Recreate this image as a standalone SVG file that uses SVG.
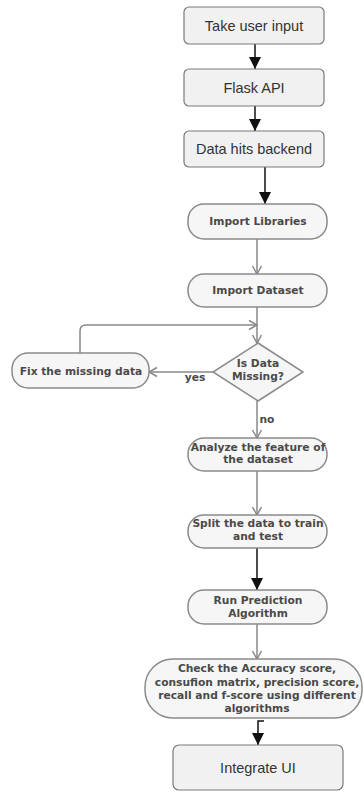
<svg xmlns="http://www.w3.org/2000/svg" width="364" height="792" viewBox="0 0 364 792">
<style>
.top{fill:#f1f1f1;stroke:#7a7a7a;stroke-width:1.2}
.low{fill:#f6f6f6;stroke:#8a8a8a;stroke-width:1.5}
.t1{font-family:"Liberation Sans",Arial,sans-serif;font-size:14.5px;fill:#333;text-anchor:middle}
.t2{font-family:"DejaVu Sans",Verdana,sans-serif;font-size:10.7px;font-weight:bold;fill:#4a4a4a;text-anchor:middle}
.ab{stroke:#111;stroke-width:1.5;fill:none}
.ag{stroke:#888;stroke-width:1.5;fill:none}
</style>
<defs>
<marker id="hb" markerUnits="userSpaceOnUse" markerWidth="12" markerHeight="12" refX="10" refY="5" orient="auto" viewBox="0 0 10 10">
<path d="M0,0 L10,5 L0,10 z" fill="#111"/>
</marker>
<marker id="hg" markerUnits="userSpaceOnUse" markerWidth="10" markerHeight="12" refX="9" refY="5" orient="auto" viewBox="0 0 10 10">
<path d="M1,0.5 L9,5 L1,9.5" fill="none" stroke="#888" stroke-width="1.5"/>
</marker>
</defs>
<rect width="364" height="792" fill="#fff"/>
<g id="connectors">
<line class="ab" x1="255" y1="44" x2="255" y2="69" marker-end="url(#hb)"/>
<line class="ab" x1="255" y1="106" x2="255" y2="131" marker-end="url(#hb)"/>
<line class="ab" x1="265" y1="167" x2="265" y2="204" marker-end="url(#hb)"/>
<line class="ag" x1="257" y1="239" x2="257" y2="274" marker-end="url(#hg)"/>
<line class="ag" x1="257" y1="307" x2="257" y2="343" marker-end="url(#hg)"/>
<path class="ag" d="M80,353 V331 Q80,325 86,325 H257" marker-end="url(#hg)"/>
<line class="ag" x1="213" y1="372" x2="149" y2="372" marker-end="url(#hg)"/>
<line class="ag" x1="257" y1="401" x2="257" y2="438" marker-end="url(#hg)"/>
<line class="ag" x1="257" y1="471" x2="257" y2="515" marker-end="url(#hg)"/>
<line class="ab" x1="257" y1="548" x2="257" y2="590" marker-end="url(#hb)"/>
<line class="ag" x1="257" y1="624" x2="257" y2="659" marker-end="url(#hg)"/>
<path class="ab" d="M264,721 H258 V745" marker-end="url(#hb)"/>
<text x="195" y="381" class="t2">yes</text>
<text x="267" y="423" class="t2">no</text>
</g>
<g id="n1"><rect class="top" x="184" y="7" width="140" height="37" rx="5"/><text class="t1" x="254" y="30.5">Take user input</text></g>
<g id="n2"><rect class="top" x="184" y="69" width="140" height="37" rx="5"/><text class="t1" x="254" y="92.5">Flask API</text></g>
<g id="n3"><rect class="top" x="184" y="131" width="140" height="36" rx="5"/><text class="t1" x="254" y="154">Data hits backend</text></g>
<g id="n4"><rect class="low" x="188" y="204" width="139" height="35" rx="16"/><text class="t2" x="258" y="225">Import Libraries</text></g>
<g id="n5"><rect class="low" x="188" y="274" width="139" height="33" rx="16"/><text class="t2" x="258" y="294">Import Dataset</text></g>
<g id="n6"><path class="low" d="M258,343 L303,372 L258,401 L213,372 z"/><text class="t2" x="258" y="367">Is Data</text><text class="t2" x="258" y="380">Missing?</text></g>
<g id="n7"><rect class="low" x="12" y="353" width="137" height="35" rx="16"/><text class="t2" x="81" y="375">Fix the missing data</text></g>
<g id="n8"><rect class="low" x="188" y="438" width="139" height="33" rx="16"/><text class="t2" x="258" y="451">Analyze the feature of</text><text class="t2" x="258" y="463">the dataset</text></g>
<g id="n9"><rect class="low" x="188" y="515" width="139" height="33" rx="16"/><text class="t2" x="258" y="527">Split the data to train</text><text class="t2" x="258" y="540">and test</text></g>
<g id="n10"><rect class="low" x="188" y="590" width="139" height="34" rx="16"/><text class="t2" x="258" y="604">Run Prediction</text><text class="t2" x="258" y="617">Algorithm</text></g>
<g id="n11"><rect class="low" x="145" y="659" width="217" height="59" rx="28"/><text class="t2" x="257" y="672">Check the Accuracy score,</text><text class="t2" x="257" y="686">consufion matrix, precision score,</text><text class="t2" x="257" y="699">recall and f-score using different</text><text class="t2" x="257" y="712">algorithms</text></g>
<g id="n12"><rect class="top" x="173" y="745" width="170" height="45" rx="6"/><text class="t1" x="258" y="773">Integrate UI</text></g>
</svg>
